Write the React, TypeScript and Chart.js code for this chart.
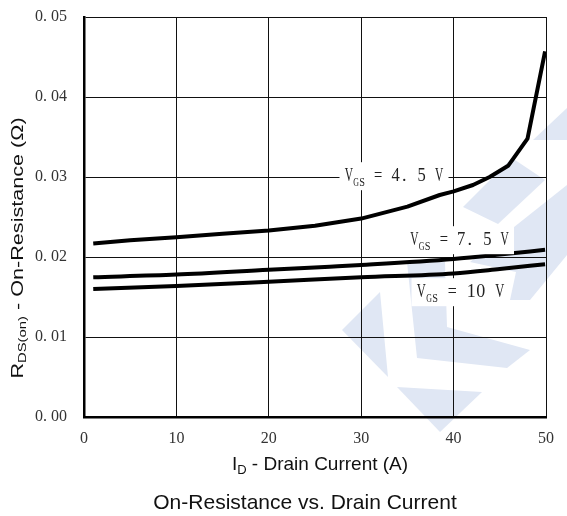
import React, { useEffect, useRef } from "react";
import { Chart, registerables } from "chart.js";

Chart.register(...registerables);

const current45: number[] = [1, 5, 10, 15, 20, 25, 30, 35, 38.5, 40, 42.1, 43.9, 45.9, 48, 49.9];
const rds45: number[] = [0.0217, 0.0221, 0.02246, 0.0229, 0.0233, 0.0239, 0.0248, 0.0263, 0.02775, 0.0282, 0.029, 0.03, 0.0314, 0.0348, 0.0457];
const current75: number[] = [1, 10, 20, 26.6, 30, 40, 45, 49.9];
const rds75: number[] = [0.01746, 0.0178, 0.0184, 0.01879, 0.019, 0.01975, 0.0203, 0.0209];
const current10: number[] = [1, 10, 20, 30, 40, 45, 49.9];
const rds10: number[] = [0.016, 0.01637, 0.0169, 0.01746, 0.01795, 0.0185, 0.0191];
const xTicks: number[] = [0, 10, 20, 30, 40, 50];
const yTicks: number[] = [0, 0.01, 0.02, 0.03, 0.04, 0.05];
const labelText: string[] = [" = 4. 5 V", " = 7. 5 V", " = 10 V"];
const labelX: number[] = [33.55, 40.64, 40.75];
const labelY: number[] = [0.0301, 0.0221, 0.0156];
const labelCell: number[] = [8.7, 8.7, 9.5];

const SERIF = '"Liberation Serif", "DejaVu Serif", serif';
const SANS = '"Liberation Sans", Arial, sans-serif';

type Part = { t: string; sub?: boolean };

function measureParts(ctx: CanvasRenderingContext2D, parts: Part[], size: number, subSize: number, family: string) {
  let w = 0;
  for (const p of parts) {
    ctx.font = `${p.sub ? subSize : size}px ${family}`;
    w += ctx.measureText(p.t).width;
  }
  return w;
}

function drawParts(ctx: CanvasRenderingContext2D, parts: Part[], x: number, y: number, size: number, subSize: number, family: string, subDy: number) {
  let cx = x;
  ctx.textAlign = "left";
  ctx.textBaseline = "middle";
  for (const p of parts) {
    ctx.font = `${p.sub ? subSize : size}px ${family}`;
    ctx.fillText(p.t, cx, p.sub ? y + subDy : y);
    cx += ctx.measureText(p.t).width;
  }
}

// draws text in fixed-width cells (like a half-width CJK serif font)
function drawCells(ctx: CanvasRenderingContext2D, text: string, x: number, y: number, cw: number, size: number) {
  ctx.font = `${size}px ${SERIF}`;
  ctx.textAlign = "center";
  ctx.textBaseline = "middle";
  let cx = x;
  for (const ch of text) {
    if (ch !== " ") {
      const w = ctx.measureText(ch).width;
      const sx = Math.min(1, (cw * 0.95) / w);
      ctx.save();
      ctx.translate(cx + cw / 2, y);
      ctx.scale(sx, 1);
      ctx.fillText(ch, 0, 0);
      ctx.restore();
    }
    cx += cw;
  }
  return cx;
}

const watermark: number[][][] = [
  [[533, 140], [567, 108], [567, 140]],
  [[463, 207], [512, 158], [545, 180], [498, 224]],
  [[470, 262], [567, 185], [567, 255], [530, 300], [510, 300], [516, 272]],
  [[407, 262], [417, 358], [507, 368], [530, 350], [447, 327], [445, 262]],
  [[342, 330], [380, 292], [388, 377]],
  [[397, 387], [482, 392], [440, 432]],
];

const bgPlugin = {
  id: "bgDecor",
  beforeDraw(chart: any) {
    const ctx = chart.ctx;
    ctx.save();
    ctx.fillStyle = "#ffffff";
    ctx.fillRect(0, 0, chart.width, chart.height);
    ctx.fillStyle = "rgb(224,231,244)";
    for (const poly of watermark) {
      ctx.beginPath();
      poly.forEach((p, i) => (i === 0 ? ctx.moveTo(p[0], p[1]) : ctx.lineTo(p[0], p[1])));
      ctx.closePath();
      ctx.fill();
    }
    ctx.restore();
  },
};

const labelPlugin = {
  id: "curveLabels",
  afterDatasetsDraw(chart: any) {
    const ctx = chart.ctx;
    const xs = chart.scales.x;
    const ys = chart.scales.y;
    ctx.save();
    labelText.forEach((txt, i) => {
      const cw = labelCell[i];
      const subW = 12;
      const w = cw + subW + txt.length * cw;
      const cx = xs.getPixelForValue(labelX[i]);
      const cy = ys.getPixelForValue(labelY[i]);
      const x0 = cx - w / 2;
      ctx.fillStyle = "#ffffff";
      ctx.fillRect(x0 - 5, cy - 14, w + 10, 28);
      ctx.fillStyle = "#222";
      let px = drawCells(ctx, "V", x0, cy, cw, 18);
      px = drawCells(ctx, "GS", px, cy + 6.5, subW / 2, 12.5);
      drawCells(ctx, txt, px, cy, cw, 18);
    });
    ctx.restore();
  },
  afterDraw(chart: any) {
    const ctx = chart.ctx;
    ctx.save();
    ctx.fillStyle = "#111";
    const xp: Part[] = [{ t: "I" }, { t: "D", sub: true }, { t: " - Drain Current (A)" }];
    const xw = measureParts(ctx, xp, 19, 13, SANS);
    drawParts(ctx, xp, 320 - xw / 2, 465, 19, 13, SANS, 5.5);
    const yp: Part[] = [{ t: "R" }, { t: "DS(on)", sub: true }, { t: " - On-Resistance (Ω)" }];
    const yw = measureParts(ctx, yp, 16, 11, SANS);
    ctx.translate(18.5, 248);
    ctx.rotate(-Math.PI / 2);
    ctx.scale(1.35, 1);
    drawParts(ctx, yp, -yw / 2, 0, 16, 11, SANS, 4.5);
    ctx.restore();
    ctx.save();
    ctx.fillStyle = "#111";
    ctx.font = `21px ${SANS}`;
    ctx.textAlign = "center";
    ctx.textBaseline = "middle";
    ctx.fillText("On-Resistance vs. Drain Current", 305, 503);
    ctx.restore();
  },
};

export default function App() {
  const ref = useRef<HTMLCanvasElement>(null);
  useEffect(() => {
    document.body.style.margin = "0";
    const canvas = ref.current!;
    const mk = (xs: number[], ys: number[]) => xs.map((x, i) => ({ x, y: ys[i] }));
    const ds = (label: string, data: any, smooth: boolean) => ({
      label,
      data,
      borderColor: "#000",
      borderWidth: 4,
      pointRadius: 0,
      fill: false,
      tension: 0,
      cubicInterpolationMode: smooth ? ("monotone" as const) : ("default" as const),
      borderJoinStyle: "round" as const,
    });
    const chart = new Chart(canvas, {
      type: "line",
      data: {
        datasets: [
          ds("VGS = 4.5 V", mk(current45, rds45), false),
          ds("VGS = 7.5 V", mk(current75, rds75), true),
          ds("VGS = 10 V", mk(current10, rds10), true),
        ],
      },
      options: {
        animation: false,
        responsive: false,
        maintainAspectRatio: false,
        layout: { padding: { top: 17, right: 21, left: 35, bottom: 0 } },
        plugins: { legend: { display: false }, tooltip: { enabled: false }, title: { display: false } },
        scales: {
          x: {
            type: "linear",
            min: 0,
            max: 50,
            afterFit: (s: any) => { s.height = 99; },
            afterBuildTicks: (s: any) => { s.ticks = xTicks.map((v) => ({ value: v })); },
            ticks: { font: { family: SERIF, size: 16 }, color: "#333", padding: 12, maxRotation: 0 },
            grid: { color: "#111", lineWidth: 1, drawTicks: false },
            border: { color: "#000", width: 2.5 },
          },
          y: {
            min: 0,
            max: 0.05,
            afterFit: (s: any) => { s.width = 49; },
            afterBuildTicks: (s: any) => { s.ticks = yTicks.map((v) => ({ value: v })); },
            ticks: {
              font: { family: SERIF, size: 16 },
              color: "#333",
              padding: 0,
              crossAlign: "far",
              callback: (v: any) => Number(v).toFixed(2).replace(".", ". "),
            },
            grid: { color: "#111", lineWidth: 1, drawTicks: false },
            border: { color: "#000", width: 2.5 },
          },
        },
      },
      plugins: [bgPlugin, labelPlugin],
    });
    return () => chart.destroy();
  }, []);
  return <canvas ref={ref} width={567} height={516} style={{ display: "block", width: 567, height: 516 }} />;
}
